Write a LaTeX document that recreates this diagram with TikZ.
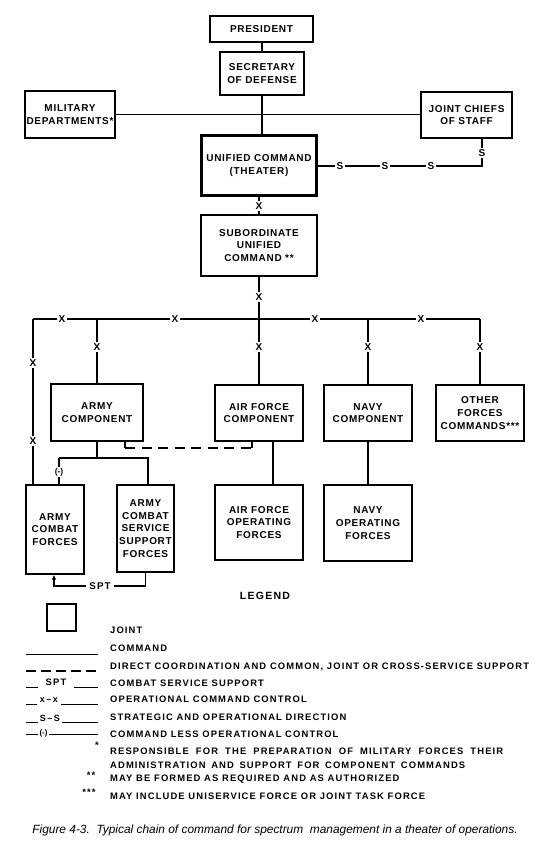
\documentclass[tikz,border=0pt]{standalone}
\usepackage{fontspec}
\setmainfont{Liberation Sans}
\newfontfamily\boxfam[LetterSpace=7]{Liberation Sans}
\newfontfamily\legfam[LetterSpace=12]{Liberation Sans}
\usetikzlibrary{arrows.meta}
\newcommand\bxfont{\boxfam\bfseries\fontsize{10}{12.7}\selectfont}
\newcommand\lgfont{\legfam\bfseries\fontsize{9.4}{11}\selectfont}
\begin{document}
\begin{tikzpicture}[x=1pt,y=-1pt,
  ln/.style={line width=1.1pt},
  box/.style={draw, line width=1.1pt, align=center, inner sep=0pt, font=\bxfont},
  lab/.style={fill=white, inner sep=1.6pt, font=\bfseries\fontsize{10}{11}\selectfont},
  lgtext/.style={anchor=west, inner sep=0pt, font=\lgfont},
  lgsym/.style={inner sep=0pt, font=\lgfont}]
\useasboundingbox (0,0) rectangle (550,847);
\fill[white] (0,0) rectangle (550,847);

% ---- boxes ----
\node[box, minimum width=103, minimum height=26] (pres) at (261.5,29) {PRESIDENT};
\node[box, minimum width=84, minimum height=43] (secdef) at (262,73.5) {SECRETARY\\OF DEFENSE};
\node[box, minimum width=90, minimum height=47] (mil) at (70,114.5) {MILITARY\\DEPARTMENTS*};
\node[box, minimum width=91, minimum height=46] (jcs) at (466.5,115) {JOINT CHIEFS\\OF STAFF};
\node[box, line width=2.6pt, minimum width=115, minimum height=60] (unified) at (259,165.5) {UNIFIED COMMAND\\(THEATER)};
\node[box, minimum width=116, minimum height=61] (sub) at (259,245.5) {SUBORDINATE\\UNIFIED\\COMMAND **};
\node[box, minimum width=92, minimum height=57] (army) at (97,412.5) {ARMY\\COMPONENT};
\node[box, minimum width=88, minimum height=56] (af) at (259,413) {AIR FORCE\\COMPONENT};
\node[box, minimum width=88, minimum height=56] (navy) at (368,413) {NAVY\\COMPONENT};
\node[box, minimum width=88, minimum height=56] (other) at (480,413) {OTHER\\FORCES\\COMMANDS***};
\node[box, minimum width=58, minimum height=89] (acf) at (55,529.5) {ARMY\\COMBAT\\FORCES};
\node[box, minimum width=57, minimum height=87] (acssf) at (145.5,528.5) {ARMY\\COMBAT\\SERVICE\\SUPPORT\\FORCES};
\node[box, minimum width=88, minimum height=75] (afof) at (259,522.5) {AIR FORCE\\OPERATING\\FORCES};
\node[box, minimum width=88, minimum height=76] (nof) at (368,523) {NAVY\\OPERATING\\FORCES};

% ---- top connectors ----
\draw[ln] (pres.south) -- (secdef.south |- pres.south) -- (secdef.north);
\draw[ln] (secdef.south) -- (secdef.south |- unified.north);
\draw[ln] (mil.east) -- (jcs.west |- mil.east);
\coordinate (sc) at (482,166);
\draw[ln] (unified.east |- sc) -- (sc) -- (sc |- jcs.south);
\node[lab] at (340,166) {S};
\node[lab] at (385,166) {S};
\node[lab] at (431,166) {S};
\node[lab] at (482,153) {S};
\draw[ln] (unified.south) -- node[lab]{X} (sub.north);

% ---- operational bus ----
\coordinate (busL) at (33,319);
\coordinate (busR) at (480,319);
\draw[ln] (busL) -- (busR);
\draw[ln] (sub.south) -- (sub.south |- af.north);
\node[lab] at (259,297) {X};
\node[lab] at (259,347) {X};
\draw[ln] (busL) -- (busL |- acf.north);
\node[lab] at (33,363) {X};
\node[lab] at (33,441) {X};
\draw[ln] (army.north |- busL) -- (army.north);
\node[lab] at (97,347) {X};
\draw[ln] (navy.north |- busL) -- (navy.north);
\node[lab] at (368,347) {X};
\draw[ln] (busR) -- (other.north);
\node[lab] at (480,347) {X};
\node[lab] at (62,319) {X};
\node[lab] at (175,319) {X};
\node[lab] at (315,319) {X};
\node[lab] at (421,319) {X};

% ---- lower connectors ----
\coordinate (d1) at (125,448);
\coordinate (d2) at (252,448);
\draw[ln] (d1 |- army.south) -- (d1);
\draw[ln, dash pattern=on 10pt off 6.5pt] (d1) -- (d2);
\draw[ln] (d2) -- (d2 |- af.south);
\draw[ln] ([xshift=14]af.south) -- ([xshift=14]af.south |- afof.north);
\draw[ln] (navy.south) -- (nof.north);

\coordinate (t1) at (59,458);
\coordinate (t2) at (148,458);
\draw[ln] (army.south) -- (army.south |- t1);
\draw[ln] (t1) -- (t2) -- (t2 |- acssf.north);
\draw[ln] (t1) -- (t1 |- acf.north);
\node[lab, font=\bfseries\fontsize{8.5}{9}\selectfont, inner sep=1pt] at (59,472) {(-)};

\coordinate (s1) at (145.5,586);
\coordinate (s2) at (54,586);
\draw[ln, -{Latex[length=5pt,width=4.5pt]}] (acssf.south) -- (s1) -- (s2) -- (s2 |- acf.south);
\node[lab, inner sep=3pt, font=\legfam\bfseries\fontsize{9.8}{11}\selectfont] at (100,586) {SPT};

% ---- legend ----
\node[font=\legfam\bfseries\fontsize{10.5}{12}\selectfont] (legend) at (265,596) {LEGEND};
\node[draw, line width=2.8pt, minimum width=29, minimum height=27, inner sep=0pt] (legbox) at (61.5,617.5) {};
\node[lgtext] (l1) at (110,630) {JOINT};
\node[lgtext] (l2) at (110,648) {COMMAND};
\draw[line width=1pt] (26,654) -- (98,654);
\node[lgtext] (l3) at (110,667) {DIRECT COORDINATION AND COMMON, JOINT OR CROSS-SERVICE SUPPORT};
\draw[line width=1.1pt, dash pattern=on 10pt off 5pt] (26,671) -- (98,671);
\node[lgtext] (l4) at (110,683) {COMBAT SERVICE SUPPORT};
\draw[line width=0.9pt] (26,687) -- (38,687);
\node[lgsym] at (56,682) {SPT};
\draw[line width=0.9pt] (74,687) -- (98,687);
\node[lgtext] (l5) at (110,699.5) {OPERATIONAL COMMAND CONTROL};
\draw[line width=0.9pt] (26,704) -- (37,704);
\node[lgsym, font=\bfseries\fontsize{9}{10}\selectfont] at (49,700) {x\,--\,x};
\draw[line width=0.9pt] (61,704) -- (98,704);
\node[lgtext] (l6) at (110,717.5) {STRATEGIC AND OPERATIONAL DIRECTION};
\draw[line width=0.9pt] (26,722) -- (38,722);
\node[lgsym, font=\bfseries\fontsize{9}{10}\selectfont] at (50,718) {S\,--\,S};
\draw[line width=0.9pt] (62,722) -- (98,722);
\node[lgtext] (l7) at (110,734) {COMMAND LESS OPERATIONAL CONTROL};
\draw[line width=0.9pt] (26,734.5) -- (38,734.5);
\node[lgsym, font=\bfseries\fontsize{8}{9}\selectfont] at (43.5,733) {(-)};
\draw[line width=0.9pt] (49,734.5) -- (98,734.5);
\node[lgsym] at (97,745) {*};
\node[lgtext] (l8) at (110,751) {\makebox[393pt][s]{RESPONSIBLE FOR THE PREPARATION OF MILITARY FORCES THEIR}};
\node[lgtext] (l9) at (110,765) {\makebox[355pt][s]{ADMINISTRATION AND SUPPORT FOR COMPONENT COMMANDS}};
\node[lgsym] at (91,775) {**};
\node[lgtext] (l10) at (110,779) {MAY BE FORMED AS REQUIRED AND AS AUTHORIZED};
\node[lgsym] at (89,792) {***};
\node[lgtext] (l11) at (110,796) {MAY INCLUDE UNISERVICE FORCE OR JOINT TASK FORCE};

% ---- caption ----
\node[font=\itshape\fontsize{11.9}{14}\selectfont, inner sep=0pt] (cap) at (275,830) {Figure 4-3.\ \ Typical chain of command for spectrum\ \ management in a theater of operations.};
\end{tikzpicture}
\end{document}
